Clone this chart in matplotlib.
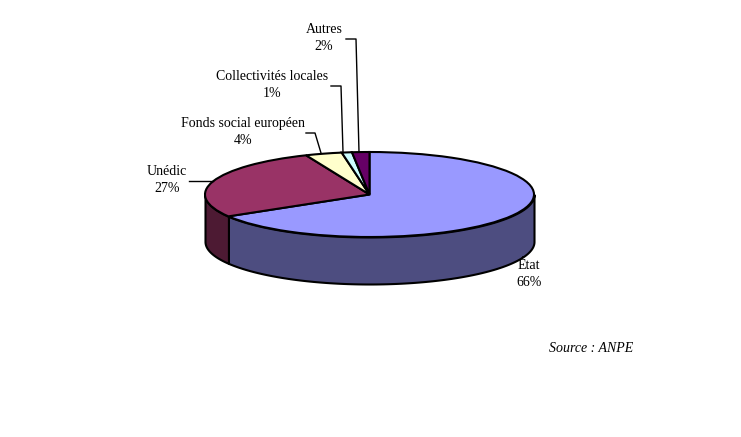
import numpy as np
import matplotlib
matplotlib.use("Agg")
import matplotlib.pyplot as plt

plt.rcParams['font.family'] = ['Liberation Serif', 'DejaVu Serif']

labels = ["État", "Unédic", "Fonds social européen", "Collectivités locales", "Autres"]
# shares read from the slice edges, they round to the printed percentages
values = [66.4, 27.3, 3.6, 1.0, 1.7]
top_colors = ["#9999FF", "#993366", "#FFFFCC", "#CCFFFF", "#660066"]
side_colors = ["#4D4D80", "#4D1A33", "#808066", "#668080", "#330033"]

W, H = 741, 437
# ellipse in pixels
cx, cy, a, b, depth = 369.5, 194.5, 164.5, 42.5, 47

fig = plt.figure(figsize=(W / 100, H / 100), dpi=100, facecolor="white")
ax = fig.add_axes([0, 0, 1, 1])

# side of the cake, only the front half shows
edges = 90 - np.cumsum([0] + values) * 3.6
for i in range(len(values)):
    t1 = edges[i + 1] % 360
    t2 = edges[i] % 360
    if t2 == 0 or t2 <= t1:
        t2 += 360
    lo = max(t1, 180)
    hi = min(t2, 360)
    if hi <= lo:
        continue
    th = np.radians(np.linspace(lo, hi, 120))
    ax.fill_between(np.cos(th), np.sin(th) - depth / b, np.sin(th),
                    facecolor=side_colors[i], edgecolor="black", linewidth=1.5, zorder=1)

ax.pie(values, colors=top_colors, startangle=90, counterclock=False,
       wedgeprops={"edgecolor": "black", "linewidth": 1.5, "zorder": 2})
ax.set_aspect("auto")
ax.set_xlim(-cx / a, (W - cx) / a)
ax.set_ylim((cy - H) / b, cy / b)
ax.axis("off")

# labels and leader lines in pixel coordinates
px = fig.add_axes([0, 0, 1, 1], facecolor="none")
px.set_xlim(0, W)
px.set_ylim(H, 0)
px.axis("off")

label_pos = [(529, 274), (167, 180), (243, 132), (272, 85), (324, 38)]
for name, v, (x, y) in zip(labels, values, label_pos):
    px.text(x, y, f"{name}\n{v:.0f}%", ha="center", va="center", fontsize=10,
            linespacing=1.4, color="black")

leaders = [
    ([189, 213], [181, 181]),
    ([306, 315, 321], [133, 133, 153]),
    ([331, 341, 343], [86, 86, 152]),
    ([346, 356, 359], [39, 39, 152]),
]
for lx, ly in leaders:
    px.plot(lx, ly, color="black", linewidth=1)

px.text(591, 348, "Source : ANPE", ha="center", va="center", fontsize=10, style="italic")

fig.savefig("out.png", dpi=100)
